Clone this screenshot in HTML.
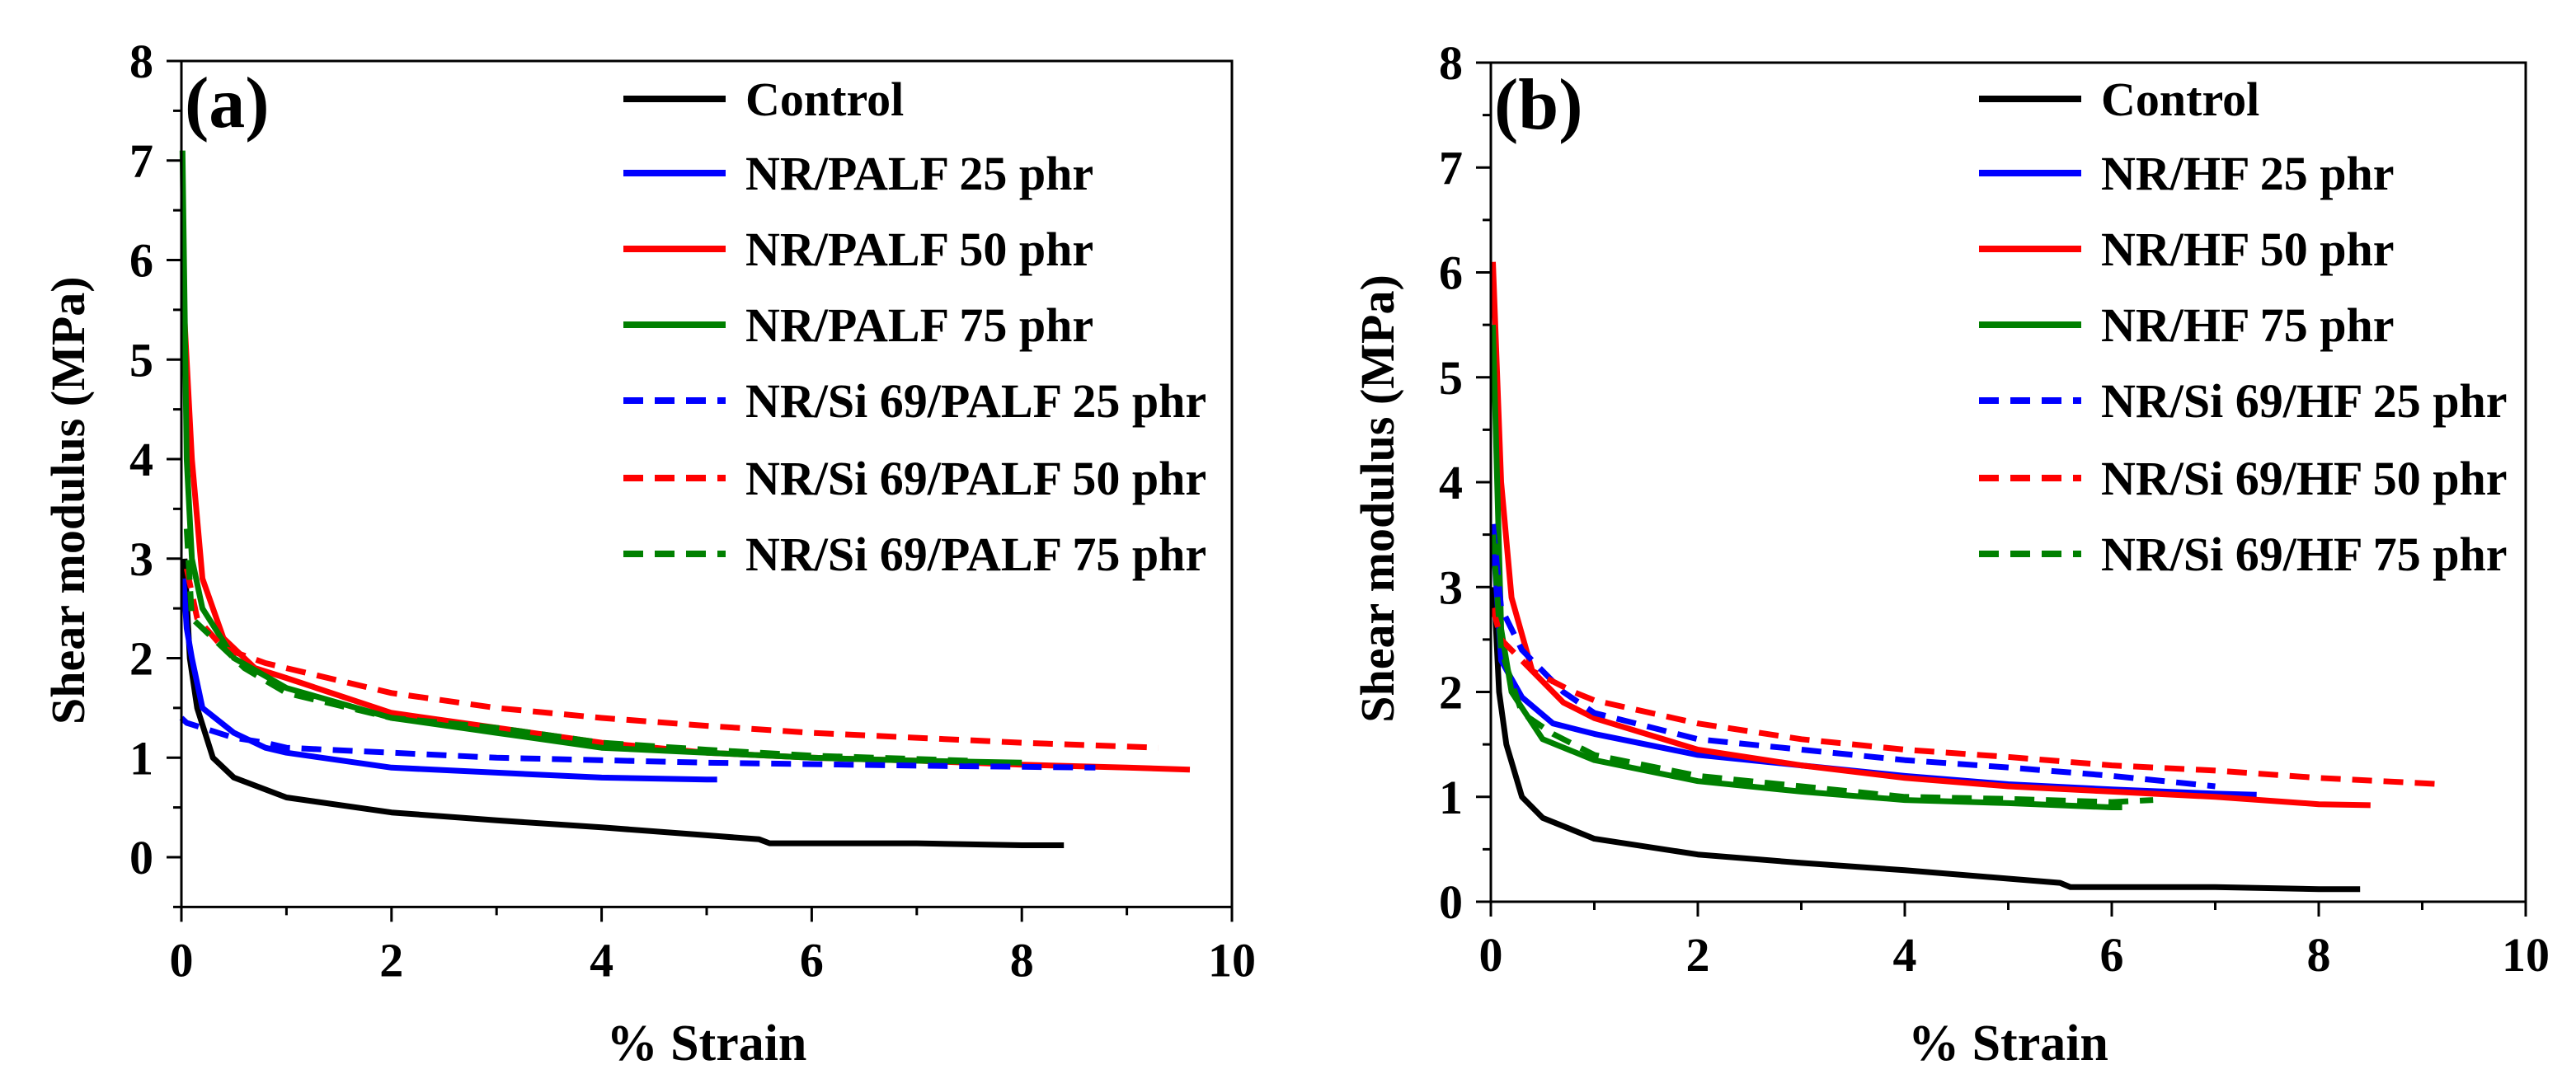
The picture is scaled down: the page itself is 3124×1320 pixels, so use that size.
<!DOCTYPE html>
<html><head><meta charset="utf-8"><style>
html,body{margin:0;padding:0;background:#fff;}
svg{display:block;font-family:"Liberation Serif",serif;font-weight:bold;}
</style></head><body>
<svg id="chart" width="3124" height="1320" viewBox="0 0 3124 1320" xmlns="http://www.w3.org/2000/svg"></svg>
<script>
// ---- data ----
const legendA = ["Control","NR/PALF 25 phr","NR/PALF 50 phr","NR/PALF 75 phr","NR/Si 69/PALF 25 phr","NR/Si 69/PALF 50 phr","NR/Si 69/PALF 75 phr"];
const legendB = ["Control","NR/HF 25 phr","NR/HF 50 phr","NR/HF 75 phr","NR/Si 69/HF 25 phr","NR/Si 69/HF 50 phr","NR/Si 69/HF 75 phr"];
const colors = ["#000","#0000ff","#ff0000","#008000","#0000ff","#ff0000","#008000"];
const dashed = [false,false,false,false,true,true,true];
const xTicks = [0,2,4,6,8,10];
const yTicks = [0,1,2,3,4,5,6,7,8];

const aControlX=[0.03,0.08,0.15,0.3,0.5,1,2,3,4,5,5.5,5.6,6,7,8,8.4];
const aControlY=[3.0,2.0,1.5,1.0,0.8,0.6,0.45,0.37,0.3,0.22,0.18,0.14,0.14,0.14,0.12,0.12];
const a25X=[0.02,0.05,0.1,0.2,0.5,0.8,1,2,3,4,5,5.1];
const a25Y=[2.8,2.3,2.0,1.5,1.25,1.1,1.05,0.9,0.85,0.8,0.78,0.78];
const a50X=[0.03,0.1,0.2,0.4,0.7,1,2,3,4,5,6,7,8,9,9.6];
const a50Y=[5.4,4.0,2.8,2.2,1.9,1.8,1.45,1.3,1.15,1.05,1.0,0.97,0.93,0.9,0.88];
const a75X=[0.01,0.05,0.1,0.2,0.5,1,2,3,4,5,6,7,8];
const a75Y=[7.1,4.0,3.0,2.5,2.0,1.7,1.4,1.25,1.1,1.05,1.0,0.97,0.95];
const aS25X=[0.0,0.05,0.2,0.5,0.8,1,2,3,5,7,8.7];
const aS25Y=[1.4,1.35,1.3,1.2,1.15,1.1,1.05,1.0,0.95,0.92,0.9];
const aS50X=[0.05,0.15,0.4,0.8,1,2,3,4,5,6,7,8,9.3];
const aS50Y=[2.9,2.4,2.1,1.95,1.9,1.65,1.5,1.4,1.32,1.25,1.2,1.15,1.1];
const aS75X=[0.05,0.1,0.3,0.6,1,2,3,4,5,6,7.5];
const aS75Y=[3.3,2.4,2.2,1.9,1.65,1.4,1.3,1.15,1.08,1.02,0.97];

const bControlX=[0.03,0.08,0.15,0.3,0.5,1,2,3,4,5,5.5,5.6,6,7,8,8.4];
const bControlY=[3.0,2.0,1.5,1.0,0.8,0.6,0.45,0.37,0.3,0.22,0.18,0.14,0.14,0.14,0.12,0.12];
const b25X=[0.02,0.1,0.3,0.6,1,2,3,4,5,6,7,7.4];
const b25Y=[3.5,2.3,1.95,1.7,1.6,1.4,1.3,1.2,1.12,1.07,1.03,1.02];
const b50X=[0.02,0.1,0.2,0.4,0.7,1,2,3,4,5,6,7,8,8.5];
const b50Y=[6.1,4.0,2.9,2.2,1.9,1.75,1.45,1.3,1.18,1.1,1.05,1.0,0.93,0.92];
const b75X=[0.02,0.1,0.2,0.5,1,2,3,4,5,6,6.1];
const b75Y=[5.5,2.6,2.0,1.55,1.35,1.15,1.05,0.97,0.94,0.9,0.9];
const bS25X=[0.02,0.1,0.3,0.7,1,2,3,4,5,6,7];
const bS25Y=[3.6,2.8,2.4,2.0,1.8,1.55,1.45,1.35,1.28,1.2,1.1];
const bS50X=[0.02,0.1,0.4,0.8,1,2,3,4,5,6,7,8,9.2];
const bS50Y=[2.8,2.5,2.2,2.0,1.92,1.7,1.55,1.45,1.38,1.3,1.25,1.18,1.12];
const bS75X=[0.02,0.1,0.3,0.6,1,2,3,4,5,6,6.4];
const bS75Y=[3.5,2.4,1.8,1.6,1.4,1.2,1.1,1.0,0.98,0.95,0.97];

const seriesA=[[aControlX,aControlY],[a25X,a25Y],[a50X,a50Y],[a75X,a75Y],[aS25X,aS25Y],[aS50X,aS50Y],[aS75X,aS75Y]];
const seriesB=[[bControlX,bControlY],[b25X,b25Y],[b50X,b50Y],[b75X,b75Y],[bS25X,bS25Y],[bS50X,bS50Y],[bS75X,bS75Y]];

const NS="http://www.w3.org/2000/svg";
const svg=document.getElementById('chart');
function mk(tag,attrs,parent){const e=document.createElementNS(NS,tag);for(const k in attrs)e.setAttribute(k,attrs[k]);(parent||svg).appendChild(e);return e;}

function panel(cfg){
  const g=mk('g',{});
  
  
  const xs=v=>cfg.x0+(v-0)*(cfg.x1-cfg.x0)/10;
  const ys=v=>cfg.y0-(v)*(cfg.y0-cfg.y8)/8;
  const top=cfg.y8, bot=ys(cfg.ymin), L=cfg.x0, R=cfg.x1;
  cfg.series.forEach((s,i)=>{
    const d=s[0].map((x,j)=>(j?'L':'M')+xs(x).toFixed(1)+' '+ys(s[1][j]).toFixed(1)).join(' ');
    const p=mk('path',{d:d,fill:'none',stroke:colors[i],'stroke-width':7,'stroke-linejoin':'round','stroke-dasharray':dashed[i]?'24 14':'none'},g);
    
    
  });
  const fr=mk('rect',{x:L,y:top,width:R-L,height:bot-top,fill:'none',stroke:'#000','stroke-width':3},g);
  
  
  for(let v=0;v<=10;v++){
    mk('line',{x1:xs(v),x2:xs(v),y1:bot,y2:bot+(v%2?10:18),stroke:'#000','stroke-width':3},g);
  }
  xTicks.forEach(v=>{
    const t=mk('text',{x:xs(v),y:bot+84,'text-anchor':'middle','font-size':58},g);
    t.textContent=v;
    
    
  });
  for(let v=cfg.ymin;v<=8.001;v+=0.5){
    mk('line',{x1:L,x2:L-(Number.isInteger(v)?18:10),y1:ys(v),y2:ys(v),stroke:'#000','stroke-width':3},g);
  }
  yTicks.forEach(v=>{
    const t=mk('text',{x:L-34,y:ys(v)+20,'text-anchor':'end','font-size':58},g);
    t.textContent=v;
    
    
  });
  const xt=mk('text',{x:(L+R)/2,y:1286,'text-anchor':'middle','font-size':62},g);
  xt.textContent='% Strain';
  
  
  const yt=mk('text',{x:0,y:0,'text-anchor':'middle','font-size':58,transform:`translate(${L-118},${(top+bot)/2+20}) rotate(-90)`},g);
  yt.textContent='Shear modulus (MPa)';
  
  
  const pl=mk('text',{x:L+4,y:top+80,'font-size':88},g);
  pl.textContent=cfg.label;
  
  
  const rows=[120,210,302,394,486,580,672];
  cfg.legend.forEach((name,i)=>{
    const le=mk('g',{},g);
    
    
    mk('line',{x1:cfg.lx,x2:cfg.lx+124,y1:rows[i],y2:rows[i],stroke:colors[i],'stroke-width':8,'stroke-dasharray':dashed[i]?'24 14':'none'},le);
    const t=mk('text',{x:cfg.lx+148,y:rows[i]+20,'font-size':58},le);
    t.textContent=name;
  });
}
panel({name:'panel-a',label:'(a)',x0:220,x1:1494,y0:1040,y8:74,ymin:-0.5,series:seriesA,legend:legendA,lx:756});
panel({name:'panel-b',label:'(b)',x0:1808,x1:3063,y0:1094,y8:76,ymin:0,series:seriesB,legend:legendB,lx:2400});
</script>
</body></html>
